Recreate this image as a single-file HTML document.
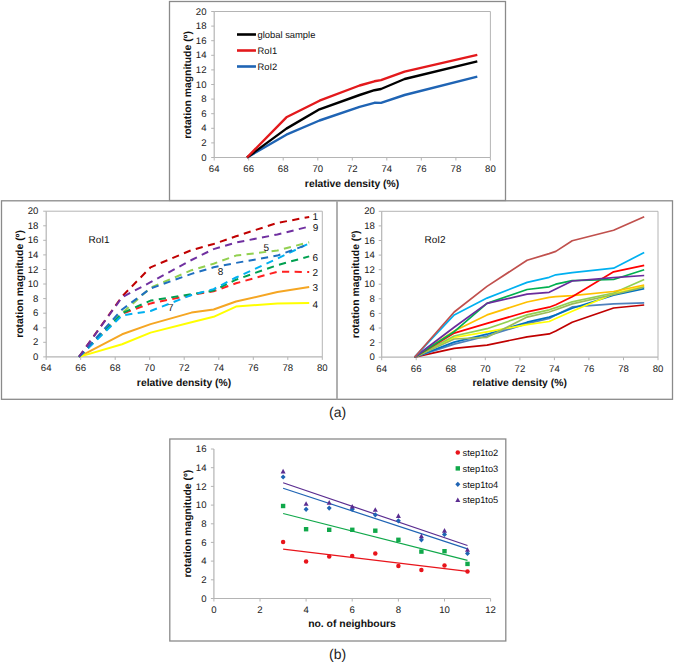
<!DOCTYPE html><html><head><meta charset="utf-8"><style>html,body{margin:0;padding:0;background:#fff;width:675px;height:662px;overflow:hidden;}svg text{font-family:"Liberation Sans", sans-serif;text-rendering:geometricPrecision;}</style></head><body><svg width="675" height="662" viewBox="0 0 675 662" style="position:absolute;left:0;top:0" font-family='"Liberation Sans", sans-serif'>
<rect x="0" y="0" width="675" height="662" fill="#fff"/>
<rect x="169.5" y="1.5" width="336" height="199" fill="none" stroke="#8a8a8a" stroke-width="1.3"/>
<line x1="214.2" y1="11.5" x2="490.4" y2="11.5" stroke="#b4b4b4" stroke-width="1" />
<line x1="490.4" y1="11.5" x2="490.4" y2="157.5" stroke="#b4b4b4" stroke-width="1" />
<line x1="214.2" y1="157.5" x2="490.4" y2="157.5" stroke="#b4b4b4" stroke-width="1.2" />
<line x1="214.2" y1="157.5" x2="214.2" y2="11.5" stroke="#b4b4b4" stroke-width="1.2" />
<line x1="211.2" y1="157.5" x2="214.2" y2="157.5" stroke="#b4b4b4" stroke-width="1" />
<text x="206.5" y="160.6" font-size="9.6" text-anchor="end" font-weight="normal" fill="#1a1a1a" >0</text>
<line x1="211.2" y1="142.9" x2="214.2" y2="142.9" stroke="#b4b4b4" stroke-width="1" />
<text x="206.5" y="146.0" font-size="9.6" text-anchor="end" font-weight="normal" fill="#1a1a1a" >2</text>
<line x1="211.2" y1="128.3" x2="214.2" y2="128.3" stroke="#b4b4b4" stroke-width="1" />
<text x="206.5" y="131.4" font-size="9.6" text-anchor="end" font-weight="normal" fill="#1a1a1a" >4</text>
<line x1="211.2" y1="113.7" x2="214.2" y2="113.7" stroke="#b4b4b4" stroke-width="1" />
<text x="206.5" y="116.8" font-size="9.6" text-anchor="end" font-weight="normal" fill="#1a1a1a" >6</text>
<line x1="211.2" y1="99.1" x2="214.2" y2="99.1" stroke="#b4b4b4" stroke-width="1" />
<text x="206.5" y="102.2" font-size="9.6" text-anchor="end" font-weight="normal" fill="#1a1a1a" >8</text>
<line x1="211.2" y1="84.5" x2="214.2" y2="84.5" stroke="#b4b4b4" stroke-width="1" />
<text x="206.5" y="87.6" font-size="9.6" text-anchor="end" font-weight="normal" fill="#1a1a1a" >10</text>
<line x1="211.2" y1="69.9" x2="214.2" y2="69.9" stroke="#b4b4b4" stroke-width="1" />
<text x="206.5" y="73.0" font-size="9.6" text-anchor="end" font-weight="normal" fill="#1a1a1a" >12</text>
<line x1="211.2" y1="55.3" x2="214.2" y2="55.3" stroke="#b4b4b4" stroke-width="1" />
<text x="206.5" y="58.4" font-size="9.6" text-anchor="end" font-weight="normal" fill="#1a1a1a" >14</text>
<line x1="211.2" y1="40.7" x2="214.2" y2="40.7" stroke="#b4b4b4" stroke-width="1" />
<text x="206.5" y="43.8" font-size="9.6" text-anchor="end" font-weight="normal" fill="#1a1a1a" >16</text>
<line x1="211.2" y1="26.1" x2="214.2" y2="26.1" stroke="#b4b4b4" stroke-width="1" />
<text x="206.5" y="29.2" font-size="9.6" text-anchor="end" font-weight="normal" fill="#1a1a1a" >18</text>
<line x1="211.2" y1="11.5" x2="214.2" y2="11.5" stroke="#b4b4b4" stroke-width="1" />
<text x="206.5" y="14.6" font-size="9.6" text-anchor="end" font-weight="normal" fill="#1a1a1a" >20</text>
<line x1="214.2" y1="157.5" x2="214.2" y2="160.5" stroke="#b4b4b4" stroke-width="1" />
<text x="214.2" y="172.0" font-size="9.6" text-anchor="middle" font-weight="normal" fill="#1a1a1a" >64</text>
<line x1="248.7" y1="157.5" x2="248.7" y2="160.5" stroke="#b4b4b4" stroke-width="1" />
<text x="248.7" y="172.0" font-size="9.6" text-anchor="middle" font-weight="normal" fill="#1a1a1a" >66</text>
<line x1="283.2" y1="157.5" x2="283.2" y2="160.5" stroke="#b4b4b4" stroke-width="1" />
<text x="283.2" y="172.0" font-size="9.6" text-anchor="middle" font-weight="normal" fill="#1a1a1a" >68</text>
<line x1="317.8" y1="157.5" x2="317.8" y2="160.5" stroke="#b4b4b4" stroke-width="1" />
<text x="317.8" y="172.0" font-size="9.6" text-anchor="middle" font-weight="normal" fill="#1a1a1a" >70</text>
<line x1="352.3" y1="157.5" x2="352.3" y2="160.5" stroke="#b4b4b4" stroke-width="1" />
<text x="352.3" y="172.0" font-size="9.6" text-anchor="middle" font-weight="normal" fill="#1a1a1a" >72</text>
<line x1="386.8" y1="157.5" x2="386.8" y2="160.5" stroke="#b4b4b4" stroke-width="1" />
<text x="386.8" y="172.0" font-size="9.6" text-anchor="middle" font-weight="normal" fill="#1a1a1a" >74</text>
<line x1="421.3" y1="157.5" x2="421.3" y2="160.5" stroke="#b4b4b4" stroke-width="1" />
<text x="421.3" y="172.0" font-size="9.6" text-anchor="middle" font-weight="normal" fill="#1a1a1a" >76</text>
<line x1="455.9" y1="157.5" x2="455.9" y2="160.5" stroke="#b4b4b4" stroke-width="1" />
<text x="455.9" y="172.0" font-size="9.6" text-anchor="middle" font-weight="normal" fill="#1a1a1a" >78</text>
<line x1="490.4" y1="157.5" x2="490.4" y2="160.5" stroke="#b4b4b4" stroke-width="1" />
<text x="490.4" y="172.0" font-size="9.6" text-anchor="middle" font-weight="normal" fill="#1a1a1a" >80</text>
<text x="352.0" y="186.8" font-size="10.35" text-anchor="middle" font-weight="bold" fill="#111" >relative density (%)</text>
<text x="0" y="0" font-size="10.4" text-anchor="middle" font-weight="bold" fill="#111" transform="translate(190.9,85.0) rotate(-90)">rotation magnitude (º)</text>
<polyline points="247.0,157.5 286.4,134.7 319.5,120.5 359.6,106.8 374.4,102.8 381.0,102.9 404.6,95.0 477.3,76.7" fill="none" stroke="#1f64b4" stroke-width="2.4" stroke-linejoin="round" />
<polyline points="247.0,157.5 286.4,128.6 319.5,109.3 359.6,95.0 374.4,90.2 381.0,89.0 404.6,79.0 477.3,61.4" fill="none" stroke="#000000" stroke-width="2.4" stroke-linejoin="round" />
<polyline points="247.0,157.5 286.4,117.3 319.5,100.7 359.6,85.5 374.4,81.3 381.0,80.1 404.6,71.6 477.3,54.9" fill="none" stroke="#e3191c" stroke-width="2.4" stroke-linejoin="round" />
<line x1="237.0" y1="34.5" x2="256.0" y2="34.5" stroke="#000000" stroke-width="2.6" />
<text x="257.5" y="37.8" font-size="9.4" text-anchor="start" font-weight="normal" fill="#111" >global sample</text>
<line x1="237.0" y1="50.5" x2="256.0" y2="50.5" stroke="#e3191c" stroke-width="2.6" />
<text x="257.5" y="53.8" font-size="9.4" text-anchor="start" font-weight="normal" fill="#111" >RoI1</text>
<line x1="237.0" y1="66.5" x2="256.0" y2="66.5" stroke="#1f64b4" stroke-width="2.6" />
<text x="257.5" y="69.8" font-size="9.4" text-anchor="start" font-weight="normal" fill="#111" >RoI2</text>
<rect x="1.5" y="200.8" width="671" height="198.5" fill="none" stroke="#8a8a8a" stroke-width="1.3"/>
<line x1="337.0" y1="200.8" x2="337.0" y2="399.3" stroke="#a8a8a8" stroke-width="1.8" />
<line x1="46.2" y1="211.2" x2="322.3" y2="211.2" stroke="#b4b4b4" stroke-width="1" />
<line x1="322.3" y1="211.2" x2="322.3" y2="356.9" stroke="#b4b4b4" stroke-width="1" />
<line x1="46.2" y1="356.9" x2="322.3" y2="356.9" stroke="#b4b4b4" stroke-width="1.2" />
<line x1="46.2" y1="356.9" x2="46.2" y2="211.2" stroke="#b4b4b4" stroke-width="1.2" />
<line x1="43.2" y1="356.9" x2="46.2" y2="356.9" stroke="#b4b4b4" stroke-width="1" />
<text x="38.4" y="360.0" font-size="9.6" text-anchor="end" font-weight="normal" fill="#1a1a1a" >0</text>
<line x1="43.2" y1="342.3" x2="46.2" y2="342.3" stroke="#b4b4b4" stroke-width="1" />
<text x="38.4" y="345.4" font-size="9.6" text-anchor="end" font-weight="normal" fill="#1a1a1a" >2</text>
<line x1="43.2" y1="327.8" x2="46.2" y2="327.8" stroke="#b4b4b4" stroke-width="1" />
<text x="38.4" y="330.9" font-size="9.6" text-anchor="end" font-weight="normal" fill="#1a1a1a" >4</text>
<line x1="43.2" y1="313.2" x2="46.2" y2="313.2" stroke="#b4b4b4" stroke-width="1" />
<text x="38.4" y="316.3" font-size="9.6" text-anchor="end" font-weight="normal" fill="#1a1a1a" >6</text>
<line x1="43.2" y1="298.6" x2="46.2" y2="298.6" stroke="#b4b4b4" stroke-width="1" />
<text x="38.4" y="301.7" font-size="9.6" text-anchor="end" font-weight="normal" fill="#1a1a1a" >8</text>
<line x1="43.2" y1="284.0" x2="46.2" y2="284.0" stroke="#b4b4b4" stroke-width="1" />
<text x="38.4" y="287.1" font-size="9.6" text-anchor="end" font-weight="normal" fill="#1a1a1a" >10</text>
<line x1="43.2" y1="269.5" x2="46.2" y2="269.5" stroke="#b4b4b4" stroke-width="1" />
<text x="38.4" y="272.6" font-size="9.6" text-anchor="end" font-weight="normal" fill="#1a1a1a" >12</text>
<line x1="43.2" y1="254.9" x2="46.2" y2="254.9" stroke="#b4b4b4" stroke-width="1" />
<text x="38.4" y="258.0" font-size="9.6" text-anchor="end" font-weight="normal" fill="#1a1a1a" >14</text>
<line x1="43.2" y1="240.3" x2="46.2" y2="240.3" stroke="#b4b4b4" stroke-width="1" />
<text x="38.4" y="243.4" font-size="9.6" text-anchor="end" font-weight="normal" fill="#1a1a1a" >16</text>
<line x1="43.2" y1="225.8" x2="46.2" y2="225.8" stroke="#b4b4b4" stroke-width="1" />
<text x="38.4" y="228.9" font-size="9.6" text-anchor="end" font-weight="normal" fill="#1a1a1a" >18</text>
<line x1="43.2" y1="211.2" x2="46.2" y2="211.2" stroke="#b4b4b4" stroke-width="1" />
<text x="38.4" y="214.3" font-size="9.6" text-anchor="end" font-weight="normal" fill="#1a1a1a" >20</text>
<line x1="46.2" y1="356.9" x2="46.2" y2="359.9" stroke="#b4b4b4" stroke-width="1" />
<text x="46.2" y="371.4" font-size="9.6" text-anchor="middle" font-weight="normal" fill="#1a1a1a" >64</text>
<line x1="80.7" y1="356.9" x2="80.7" y2="359.9" stroke="#b4b4b4" stroke-width="1" />
<text x="80.7" y="371.4" font-size="9.6" text-anchor="middle" font-weight="normal" fill="#1a1a1a" >66</text>
<line x1="115.2" y1="356.9" x2="115.2" y2="359.9" stroke="#b4b4b4" stroke-width="1" />
<text x="115.2" y="371.4" font-size="9.6" text-anchor="middle" font-weight="normal" fill="#1a1a1a" >68</text>
<line x1="149.7" y1="356.9" x2="149.7" y2="359.9" stroke="#b4b4b4" stroke-width="1" />
<text x="149.7" y="371.4" font-size="9.6" text-anchor="middle" font-weight="normal" fill="#1a1a1a" >70</text>
<line x1="184.2" y1="356.9" x2="184.2" y2="359.9" stroke="#b4b4b4" stroke-width="1" />
<text x="184.2" y="371.4" font-size="9.6" text-anchor="middle" font-weight="normal" fill="#1a1a1a" >72</text>
<line x1="218.8" y1="356.9" x2="218.8" y2="359.9" stroke="#b4b4b4" stroke-width="1" />
<text x="218.8" y="371.4" font-size="9.6" text-anchor="middle" font-weight="normal" fill="#1a1a1a" >74</text>
<line x1="253.3" y1="356.9" x2="253.3" y2="359.9" stroke="#b4b4b4" stroke-width="1" />
<text x="253.3" y="371.4" font-size="9.6" text-anchor="middle" font-weight="normal" fill="#1a1a1a" >76</text>
<line x1="287.8" y1="356.9" x2="287.8" y2="359.9" stroke="#b4b4b4" stroke-width="1" />
<text x="287.8" y="371.4" font-size="9.6" text-anchor="middle" font-weight="normal" fill="#1a1a1a" >78</text>
<line x1="322.3" y1="356.9" x2="322.3" y2="359.9" stroke="#b4b4b4" stroke-width="1" />
<text x="322.3" y="371.4" font-size="9.6" text-anchor="middle" font-weight="normal" fill="#1a1a1a" >80</text>
<text x="184.0" y="385.8" font-size="10.35" text-anchor="middle" font-weight="bold" fill="#111" >relative density (%)</text>
<text x="0" y="0" font-size="10.4" text-anchor="middle" font-weight="bold" fill="#111" transform="translate(23.3,284.0) rotate(-90)">rotation magnitude (º)</text>
<text x="88.5" y="243.0" font-size="10" text-anchor="start" font-weight="normal" fill="#111" >RoI1</text>
<polyline points="79.0,356.9 122.1,296.4 150.6,267.3 191.5,250.1 213.6,244.0 236.0,236.3 277.4,222.9 309.2,217.0" fill="none" stroke="#c00000" stroke-width="2.0" stroke-linejoin="round" stroke-dasharray="7.2,5.4" stroke-linecap="butt"/>
<polyline points="79.0,356.9 122.1,313.9 150.6,303.4 191.5,295.0 213.6,291.3 236.0,283.3 277.4,271.7 309.2,272.0" fill="none" stroke="#ff2020" stroke-width="2.0" stroke-linejoin="round" stroke-dasharray="7.2,5.4" stroke-linecap="butt"/>
<polyline points="79.0,356.9 122.1,334.3 150.6,324.1 191.5,312.6 213.6,309.5 236.0,301.5 277.4,292.1 309.2,287.0" fill="none" stroke="#f5a623" stroke-width="2.0" stroke-linejoin="round" stroke-linecap="butt"/>
<polyline points="79.0,356.9 122.1,344.2 150.6,332.6 191.5,322.3 213.6,316.8 236.0,306.6 277.4,303.4 309.2,303.0" fill="none" stroke="#ffff00" stroke-width="2.0" stroke-linejoin="round" stroke-linecap="butt"/>
<polyline points="79.0,356.9 122.1,313.2 150.6,287.7 191.5,270.2 213.6,263.7 236.0,255.6 277.4,250.5 309.2,242.2" fill="none" stroke="#92d050" stroke-width="2.0" stroke-linejoin="round" stroke-dasharray="7.2,5.4" stroke-linecap="butt"/>
<polyline points="79.0,356.9 122.1,313.2 150.6,300.6 191.5,294.2 213.6,290.6 236.0,279.7 277.4,265.1 309.2,256.4" fill="none" stroke="#00a050" stroke-width="2.0" stroke-linejoin="round" stroke-dasharray="7.2,5.4" stroke-linecap="butt"/>
<polyline points="79.0,356.9 122.1,315.4 150.6,311.0 191.5,295.0 213.6,289.1 236.0,277.5 277.4,258.6 309.2,243.3" fill="none" stroke="#00b0f0" stroke-width="2.0" stroke-linejoin="round" stroke-dasharray="7.2,5.4" stroke-linecap="butt"/>
<polyline points="79.0,356.9 122.1,309.5 150.6,288.4 191.5,273.9 213.6,267.3 236.0,262.9 277.4,255.6 309.2,244.0" fill="none" stroke="#1f6fc0" stroke-width="2.0" stroke-linejoin="round" stroke-dasharray="7.2,5.4" stroke-linecap="butt"/>
<polyline points="79.0,356.9 122.1,297.2 150.6,282.2 191.5,260.0 213.6,249.1 236.0,242.5 277.4,234.5 309.2,226.5" fill="none" stroke="#7030a0" stroke-width="2.0" stroke-linejoin="round" stroke-dasharray="7.2,5.4" stroke-linecap="butt"/>
<text x="315.3" y="220.3" font-size="10" text-anchor="middle" font-weight="normal" fill="#111" >1</text>
<text x="315.6" y="231.2" font-size="10" text-anchor="middle" font-weight="normal" fill="#111" >9</text>
<text x="315.3" y="261.0" font-size="10" text-anchor="middle" font-weight="normal" fill="#111" >6</text>
<text x="315.3" y="275.8" font-size="10" text-anchor="middle" font-weight="normal" fill="#111" >2</text>
<text x="315.3" y="291.0" font-size="10" text-anchor="middle" font-weight="normal" fill="#111" >3</text>
<text x="315.3" y="308.2" font-size="10" text-anchor="middle" font-weight="normal" fill="#111" >4</text>
<text x="266.2" y="250.6" font-size="10" text-anchor="middle" font-weight="normal" fill="#111" >5</text>
<text x="220.5" y="275.4" font-size="10" text-anchor="middle" font-weight="normal" fill="#111" >8</text>
<text x="170.7" y="311.3" font-size="10" text-anchor="middle" font-weight="normal" fill="#111" >7</text>
<line x1="381.7" y1="211.3" x2="658.0" y2="211.3" stroke="#b4b4b4" stroke-width="1" />
<line x1="658.0" y1="211.3" x2="658.0" y2="357.2" stroke="#b4b4b4" stroke-width="1" />
<line x1="381.7" y1="357.2" x2="658.0" y2="357.2" stroke="#b4b4b4" stroke-width="1.2" />
<line x1="381.7" y1="357.2" x2="381.7" y2="211.3" stroke="#b4b4b4" stroke-width="1.2" />
<line x1="378.7" y1="357.2" x2="381.7" y2="357.2" stroke="#b4b4b4" stroke-width="1" />
<text x="374.8" y="360.3" font-size="9.6" text-anchor="end" font-weight="normal" fill="#1a1a1a" >0</text>
<line x1="378.7" y1="342.6" x2="381.7" y2="342.6" stroke="#b4b4b4" stroke-width="1" />
<text x="374.8" y="345.7" font-size="9.6" text-anchor="end" font-weight="normal" fill="#1a1a1a" >2</text>
<line x1="378.7" y1="328.0" x2="381.7" y2="328.0" stroke="#b4b4b4" stroke-width="1" />
<text x="374.8" y="331.1" font-size="9.6" text-anchor="end" font-weight="normal" fill="#1a1a1a" >4</text>
<line x1="378.7" y1="313.4" x2="381.7" y2="313.4" stroke="#b4b4b4" stroke-width="1" />
<text x="374.8" y="316.5" font-size="9.6" text-anchor="end" font-weight="normal" fill="#1a1a1a" >6</text>
<line x1="378.7" y1="298.8" x2="381.7" y2="298.8" stroke="#b4b4b4" stroke-width="1" />
<text x="374.8" y="301.9" font-size="9.6" text-anchor="end" font-weight="normal" fill="#1a1a1a" >8</text>
<line x1="378.7" y1="284.2" x2="381.7" y2="284.2" stroke="#b4b4b4" stroke-width="1" />
<text x="374.8" y="287.4" font-size="9.6" text-anchor="end" font-weight="normal" fill="#1a1a1a" >10</text>
<line x1="378.7" y1="269.7" x2="381.7" y2="269.7" stroke="#b4b4b4" stroke-width="1" />
<text x="374.8" y="272.8" font-size="9.6" text-anchor="end" font-weight="normal" fill="#1a1a1a" >12</text>
<line x1="378.7" y1="255.1" x2="381.7" y2="255.1" stroke="#b4b4b4" stroke-width="1" />
<text x="374.8" y="258.2" font-size="9.6" text-anchor="end" font-weight="normal" fill="#1a1a1a" >14</text>
<line x1="378.7" y1="240.5" x2="381.7" y2="240.5" stroke="#b4b4b4" stroke-width="1" />
<text x="374.8" y="243.6" font-size="9.6" text-anchor="end" font-weight="normal" fill="#1a1a1a" >16</text>
<line x1="378.7" y1="225.9" x2="381.7" y2="225.9" stroke="#b4b4b4" stroke-width="1" />
<text x="374.8" y="229.0" font-size="9.6" text-anchor="end" font-weight="normal" fill="#1a1a1a" >18</text>
<line x1="378.7" y1="211.3" x2="381.7" y2="211.3" stroke="#b4b4b4" stroke-width="1" />
<text x="374.8" y="214.4" font-size="9.6" text-anchor="end" font-weight="normal" fill="#1a1a1a" >20</text>
<line x1="381.7" y1="357.2" x2="381.7" y2="360.2" stroke="#b4b4b4" stroke-width="1" />
<text x="381.7" y="371.7" font-size="9.6" text-anchor="middle" font-weight="normal" fill="#1a1a1a" >64</text>
<line x1="416.2" y1="357.2" x2="416.2" y2="360.2" stroke="#b4b4b4" stroke-width="1" />
<text x="416.2" y="371.7" font-size="9.6" text-anchor="middle" font-weight="normal" fill="#1a1a1a" >66</text>
<line x1="450.8" y1="357.2" x2="450.8" y2="360.2" stroke="#b4b4b4" stroke-width="1" />
<text x="450.8" y="371.7" font-size="9.6" text-anchor="middle" font-weight="normal" fill="#1a1a1a" >68</text>
<line x1="485.3" y1="357.2" x2="485.3" y2="360.2" stroke="#b4b4b4" stroke-width="1" />
<text x="485.3" y="371.7" font-size="9.6" text-anchor="middle" font-weight="normal" fill="#1a1a1a" >70</text>
<line x1="519.9" y1="357.2" x2="519.9" y2="360.2" stroke="#b4b4b4" stroke-width="1" />
<text x="519.9" y="371.7" font-size="9.6" text-anchor="middle" font-weight="normal" fill="#1a1a1a" >72</text>
<line x1="554.4" y1="357.2" x2="554.4" y2="360.2" stroke="#b4b4b4" stroke-width="1" />
<text x="554.4" y="371.7" font-size="9.6" text-anchor="middle" font-weight="normal" fill="#1a1a1a" >74</text>
<line x1="588.9" y1="357.2" x2="588.9" y2="360.2" stroke="#b4b4b4" stroke-width="1" />
<text x="588.9" y="371.7" font-size="9.6" text-anchor="middle" font-weight="normal" fill="#1a1a1a" >76</text>
<line x1="623.5" y1="357.2" x2="623.5" y2="360.2" stroke="#b4b4b4" stroke-width="1" />
<text x="623.5" y="371.7" font-size="9.6" text-anchor="middle" font-weight="normal" fill="#1a1a1a" >78</text>
<line x1="658.0" y1="357.2" x2="658.0" y2="360.2" stroke="#b4b4b4" stroke-width="1" />
<text x="658.0" y="371.7" font-size="9.6" text-anchor="middle" font-weight="normal" fill="#1a1a1a" >80</text>
<text x="519.7" y="385.8" font-size="10.35" text-anchor="middle" font-weight="bold" fill="#111" >relative density (%)</text>
<text x="0" y="0" font-size="10.4" text-anchor="middle" font-weight="bold" fill="#111" transform="translate(358.6,284.3) rotate(-90)">rotation magnitude (º)</text>
<text x="424.5" y="243.0" font-size="10" text-anchor="start" font-weight="normal" fill="#111" >RoI2</text>
<polyline points="414.5,357.2 454.2,348.4 487.0,345.1 527.1,336.8 549.2,333.9 555.8,330.9 572.2,322.2 613.6,308.0 644.2,305.0" fill="none" stroke="#c00000" stroke-width="1.7" stroke-linejoin="round" />
<polyline points="414.5,357.2 454.2,344.1 487.0,336.0 527.1,323.6 549.2,318.5 555.8,314.9 572.2,306.9 613.6,303.9 644.2,302.9" fill="none" stroke="#4f81bd" stroke-width="1.7" stroke-linejoin="round" />
<polyline points="414.5,357.2 454.2,342.1 487.0,334.2 527.1,322.2 549.2,317.1 555.8,314.9 572.2,308.3 613.6,295.2 644.2,288.6" fill="none" stroke="#0070c0" stroke-width="1.7" stroke-linejoin="round" />
<polyline points="414.5,357.2 454.2,337.5 487.0,331.8 527.1,324.7 549.2,321.5 555.8,318.5 572.2,311.2 613.6,293.7 644.2,286.4" fill="none" stroke="#ffff00" stroke-width="1.7" stroke-linejoin="round" />
<polyline points="414.5,357.2 454.2,339.0 487.0,337.3 527.1,317.1 549.2,312.0 555.8,309.8 572.2,303.9 613.6,294.5 644.2,287.2" fill="none" stroke="#9bbb59" stroke-width="1.7" stroke-linejoin="round" />
<polyline points="414.5,357.2 454.2,336.0 487.0,328.7 527.1,314.9 549.2,309.8 555.8,307.6 572.2,301.8 613.6,293.0 644.2,279.5" fill="none" stroke="#92d050" stroke-width="1.7" stroke-linejoin="round" />
<polyline points="414.5,357.2 454.2,330.9 487.0,314.9 527.1,302.0 549.2,297.4 555.8,296.7 572.2,295.6 613.6,291.5 644.2,285.0" fill="none" stroke="#ffc000" stroke-width="1.7" stroke-linejoin="round" />
<polyline points="414.5,357.2 454.2,333.1 487.0,323.4 527.1,311.8 549.2,307.2 555.8,304.7 572.2,296.7 613.6,271.8 644.2,265.3" fill="none" stroke="#ff0000" stroke-width="1.7" stroke-linejoin="round" />
<polyline points="414.5,357.2 454.2,331.7 487.0,303.4 527.1,289.5 549.2,286.8 555.8,284.2 572.2,280.6 613.6,279.5 644.2,269.7" fill="none" stroke="#00b050" stroke-width="1.7" stroke-linejoin="round" />
<polyline points="414.5,357.2 454.2,327.3 487.0,303.4 527.1,294.2 549.2,292.3 555.8,289.1 572.2,281.0 613.6,277.7 644.2,275.5" fill="none" stroke="#6a2c9c" stroke-width="1.7" stroke-linejoin="round" />
<polyline points="414.5,357.2 454.2,314.9 487.0,298.1 527.1,282.4 549.2,277.3 555.8,274.8 572.2,272.6 613.6,268.2 644.2,252.5" fill="none" stroke="#00b0f0" stroke-width="1.7" stroke-linejoin="round" />
<polyline points="414.5,357.2 454.2,312.0 487.0,286.4 527.1,260.2 549.2,253.6 555.8,251.4 572.2,240.8 613.6,230.3 644.2,216.8" fill="none" stroke="#c0504d" stroke-width="1.7" stroke-linejoin="round" />
<text x="337.6" y="417.3" font-size="14" text-anchor="middle" font-weight="normal" fill="#222" >(a)</text>
<rect x="169.8" y="439" width="336" height="202" fill="none" stroke="#8a8a8a" stroke-width="1.3"/>
<line x1="213.9" y1="598.5" x2="490.6" y2="598.5" stroke="#b4b4b4" stroke-width="1.2" />
<line x1="213.9" y1="598.5" x2="213.9" y2="449.0" stroke="#b4b4b4" stroke-width="1.2" />
<line x1="210.9" y1="598.5" x2="213.9" y2="598.5" stroke="#b4b4b4" stroke-width="1" />
<text x="206.5" y="601.6" font-size="9.6" text-anchor="end" font-weight="normal" fill="#1a1a1a" >0</text>
<line x1="210.9" y1="579.8" x2="213.9" y2="579.8" stroke="#b4b4b4" stroke-width="1" />
<text x="206.5" y="582.9" font-size="9.6" text-anchor="end" font-weight="normal" fill="#1a1a1a" >2</text>
<line x1="210.9" y1="561.1" x2="213.9" y2="561.1" stroke="#b4b4b4" stroke-width="1" />
<text x="206.5" y="564.2" font-size="9.6" text-anchor="end" font-weight="normal" fill="#1a1a1a" >4</text>
<line x1="210.9" y1="542.4" x2="213.9" y2="542.4" stroke="#b4b4b4" stroke-width="1" />
<text x="206.5" y="545.5" font-size="9.6" text-anchor="end" font-weight="normal" fill="#1a1a1a" >6</text>
<line x1="210.9" y1="523.8" x2="213.9" y2="523.8" stroke="#b4b4b4" stroke-width="1" />
<text x="206.5" y="526.9" font-size="9.6" text-anchor="end" font-weight="normal" fill="#1a1a1a" >8</text>
<line x1="210.9" y1="505.1" x2="213.9" y2="505.1" stroke="#b4b4b4" stroke-width="1" />
<text x="206.5" y="508.2" font-size="9.6" text-anchor="end" font-weight="normal" fill="#1a1a1a" >10</text>
<line x1="210.9" y1="486.4" x2="213.9" y2="486.4" stroke="#b4b4b4" stroke-width="1" />
<text x="206.5" y="489.5" font-size="9.6" text-anchor="end" font-weight="normal" fill="#1a1a1a" >12</text>
<line x1="210.9" y1="467.7" x2="213.9" y2="467.7" stroke="#b4b4b4" stroke-width="1" />
<text x="206.5" y="470.8" font-size="9.6" text-anchor="end" font-weight="normal" fill="#1a1a1a" >14</text>
<line x1="210.9" y1="449.0" x2="213.9" y2="449.0" stroke="#b4b4b4" stroke-width="1" />
<text x="206.5" y="452.1" font-size="9.6" text-anchor="end" font-weight="normal" fill="#1a1a1a" >16</text>
<line x1="213.9" y1="598.5" x2="213.9" y2="601.5" stroke="#b4b4b4" stroke-width="1" />
<text x="213.9" y="613.0" font-size="9.6" text-anchor="middle" font-weight="normal" fill="#1a1a1a" >0</text>
<line x1="260.0" y1="598.5" x2="260.0" y2="601.5" stroke="#b4b4b4" stroke-width="1" />
<text x="260.0" y="613.0" font-size="9.6" text-anchor="middle" font-weight="normal" fill="#1a1a1a" >2</text>
<line x1="306.1" y1="598.5" x2="306.1" y2="601.5" stroke="#b4b4b4" stroke-width="1" />
<text x="306.1" y="613.0" font-size="9.6" text-anchor="middle" font-weight="normal" fill="#1a1a1a" >4</text>
<line x1="352.2" y1="598.5" x2="352.2" y2="601.5" stroke="#b4b4b4" stroke-width="1" />
<text x="352.2" y="613.0" font-size="9.6" text-anchor="middle" font-weight="normal" fill="#1a1a1a" >6</text>
<line x1="398.4" y1="598.5" x2="398.4" y2="601.5" stroke="#b4b4b4" stroke-width="1" />
<text x="398.4" y="613.0" font-size="9.6" text-anchor="middle" font-weight="normal" fill="#1a1a1a" >8</text>
<line x1="444.5" y1="598.5" x2="444.5" y2="601.5" stroke="#b4b4b4" stroke-width="1" />
<text x="444.5" y="613.0" font-size="9.6" text-anchor="middle" font-weight="normal" fill="#1a1a1a" >10</text>
<line x1="490.6" y1="598.5" x2="490.6" y2="601.5" stroke="#b4b4b4" stroke-width="1" />
<text x="490.6" y="613.0" font-size="9.6" text-anchor="middle" font-weight="normal" fill="#1a1a1a" >12</text>
<text x="352.0" y="627.0" font-size="10.4" text-anchor="middle" font-weight="bold" fill="#111" >no. of neighbours</text>
<text x="0" y="0" font-size="10.4" text-anchor="middle" font-weight="bold" fill="#111" transform="translate(191.0,523.6) rotate(-90)">rotation magnitude (º)</text>
<line x1="283.1" y1="549.2" x2="467.5" y2="571.4" stroke="#e8141b" stroke-width="1.2" />
<line x1="283.1" y1="513.5" x2="467.5" y2="560.3" stroke="#10a84a" stroke-width="1.2" />
<line x1="283.1" y1="488.2" x2="467.5" y2="548.9" stroke="#1f64b4" stroke-width="1.2" />
<line x1="283.1" y1="482.8" x2="467.5" y2="545.5" stroke="#5b2d90" stroke-width="1.2" />
<circle cx="283.1" cy="542.1" r="2.25" fill="#e8141b"/>
<circle cx="306.1" cy="561.6" r="2.25" fill="#e8141b"/>
<circle cx="329.2" cy="556.5" r="2.25" fill="#e8141b"/>
<circle cx="352.2" cy="556.0" r="2.25" fill="#e8141b"/>
<circle cx="375.3" cy="553.5" r="2.25" fill="#e8141b"/>
<circle cx="398.4" cy="566.1" r="2.25" fill="#e8141b"/>
<circle cx="421.4" cy="570.1" r="2.25" fill="#e8141b"/>
<circle cx="444.5" cy="565.5" r="2.25" fill="#e8141b"/>
<circle cx="467.5" cy="571.5" r="2.25" fill="#e8141b"/>
<rect x="280.9" y="503.8" width="4.4" height="4.4" fill="#10a84a"/>
<rect x="303.9" y="527.0" width="4.4" height="4.4" fill="#10a84a"/>
<rect x="327.0" y="527.6" width="4.4" height="4.4" fill="#10a84a"/>
<rect x="350.1" y="527.6" width="4.4" height="4.4" fill="#10a84a"/>
<rect x="373.1" y="528.5" width="4.4" height="4.4" fill="#10a84a"/>
<rect x="396.2" y="537.6" width="4.4" height="4.4" fill="#10a84a"/>
<rect x="419.2" y="549.4" width="4.4" height="4.4" fill="#10a84a"/>
<rect x="442.3" y="549.0" width="4.4" height="4.4" fill="#10a84a"/>
<rect x="465.3" y="561.7" width="4.4" height="4.4" fill="#10a84a"/>
<polygon points="283.1,474.4 285.6,477.0 283.1,479.6 280.6,477.0" fill="#1f64b4"/>
<polygon points="306.1,506.7 308.6,509.3 306.1,511.9 303.6,509.3" fill="#1f64b4"/>
<polygon points="329.2,505.5 331.7,508.1 329.2,510.7 326.7,508.1" fill="#1f64b4"/>
<polygon points="352.2,506.7 354.8,509.3 352.2,511.9 349.8,509.3" fill="#1f64b4"/>
<polygon points="375.3,512.2 377.8,514.8 375.3,517.4 372.8,514.8" fill="#1f64b4"/>
<polygon points="398.4,518.2 400.9,520.8 398.4,523.4 395.9,520.8" fill="#1f64b4"/>
<polygon points="421.4,537.2 423.9,539.8 421.4,542.4 418.9,539.8" fill="#1f64b4"/>
<polygon points="444.5,531.8 447.0,534.4 444.5,537.0 442.0,534.4" fill="#1f64b4"/>
<polygon points="467.5,550.8 470.0,553.4 467.5,556.0 465.0,553.4" fill="#1f64b4"/>
<polygon points="283.1,468.8 285.6,473.4 280.6,473.4" fill="#5b2d90"/>
<polygon points="306.1,501.2 308.6,505.8 303.6,505.8" fill="#5b2d90"/>
<polygon points="329.2,500.1 331.7,504.7 326.7,504.7" fill="#5b2d90"/>
<polygon points="352.2,504.0 354.8,508.6 349.8,508.6" fill="#5b2d90"/>
<polygon points="375.3,507.2 377.8,511.8 372.8,511.8" fill="#5b2d90"/>
<polygon points="398.4,513.3 400.9,517.9 395.9,517.9" fill="#5b2d90"/>
<polygon points="421.4,533.6 423.9,538.2 418.9,538.2" fill="#5b2d90"/>
<polygon points="444.5,528.1 447.0,532.7 442.0,532.7" fill="#5b2d90"/>
<polygon points="467.5,547.2 470.0,551.8 465.0,551.8" fill="#5b2d90"/>
<circle cx="457.8" cy="452.6" r="2.25" fill="#e8141b"/>
<text x="462.6" y="455.9" font-size="9.3" text-anchor="start" font-weight="normal" fill="#111" >step1to2</text>
<rect x="455.6" y="466.2" width="4.4" height="4.4" fill="#10a84a"/>
<text x="462.6" y="471.7" font-size="9.3" text-anchor="start" font-weight="normal" fill="#111" >step1to3</text>
<polygon points="457.8,481.7 460.3,484.3 457.8,486.9 455.3,484.3" fill="#1f64b4"/>
<text x="462.6" y="487.6" font-size="9.3" text-anchor="start" font-weight="normal" fill="#111" >step1to4</text>
<polygon points="457.8,497.5 460.3,502.1 455.3,502.1" fill="#5b2d90"/>
<text x="462.6" y="503.4" font-size="9.3" text-anchor="start" font-weight="normal" fill="#111" >step1to5</text>
<text x="337.6" y="658.9" font-size="14" text-anchor="middle" font-weight="normal" fill="#222" >(b)</text>
</svg></body></html>
